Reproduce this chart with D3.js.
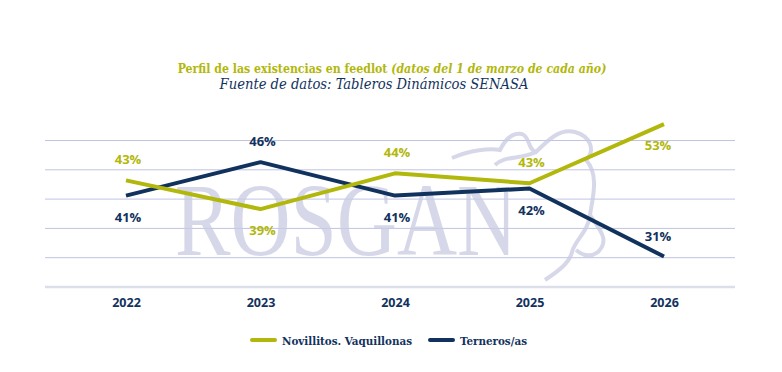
<!doctype html>
<html>
	<head>
		<meta charset="utf-8">
		<script src="https://cdn.jsdelivr.net/npm/d3@7"></script>
		<style>
			body { margin: 0; background: #fff; }
			svg { display: block; }
		</style>
	</head>
	<body>
		<div id="container"></div>
		<script>
			// chart data
			var years = ["2022", "2023", "2024", "2025", "2026"];
			var novillitos = [43.2, 38.3, 44.4, 42.7, 52.8];
			var terneros = [40.6, 46.3, 40.6, 41.8, 30.2];
			var novillitosLabels = ["43%", "39%", "44%", "43%", "53%"];
			var terneros_labels = ["41%", "46%", "41%", "42%", "31%"];
			var gridTicks = [25, 30, 35, 40, 45, 50];

			var green = "#b2b70b";
			var navy = "#12325e";
			var slab = "'DejaVu Serif Condensed', 'DejaVu Serif', serif";

			var svg = d3.select("#container")
				.append("svg")
				.attr("width", 782)
				.attr("height", 372);

			var x = d3.scalePoint().domain(years).range([126, 664]);
			var y = d3.scaleLinear().domain([25, 50]).range([287, 140.5]);

			// title
			svg.append("text")
				.attr("x", 392).attr("y", 73)
				.attr("text-anchor", "middle")
				.style("font-family", slab)
				.style("font-size", "12.2px")
				.style("font-weight", "bold")
				.attr("fill", green)
				.call(function(t){
					t.append("tspan").text("Perfil de las existencias en feedlot ");
					t.append("tspan").style("font-style", "italic").text("(datos del 1 de marzo de cada año)");
				});
			svg.append("text")
				.attr("x", 374).attr("y", 89)
				.attr("text-anchor", "middle")
				.style("font-family", slab)
				.style("font-size", "14.6px")
				.style("font-style", "italic")
				.attr("fill", navy)
				.text("Fuente de datos: Tableros Dinámicos SENASA");

			// gridlines
			svg.append("g").selectAll("line")
				.data(gridTicks)
				.enter()
				.append("line")
				.attr("x1", 45).attr("x2", 735)
				.attr("y1", function(d){ return y(d); })
				.attr("y2", function(d){ return y(d); })
				.attr("stroke", function(d){ return d == 25 ? "#dcdfea" : "#bfc3e4"; })
				.attr("stroke-width", function(d){ return d == 25 ? 2.5 : 1; });

			// watermark
			var wm = svg.append("g").attr("opacity", 0.75);
			wm.append("text")
				.attr("transform", "translate(175,255) scale(0.8,1)")
				.style("font-family", "'Liberation Serif', serif")
				.style("font-size", "104px")
				.attr("fill", "#c9cce2")
				.text("ROSGAN");
			wm.append("path")
				.attr("d", "M452,158 C470,150 490,148 500,150 C505,140 512,132 522,134 C530,137 528,150 536,152 C548,140 560,128 575,132 C590,136 596,150 586,160 C600,175 592,200 590,215 C588,232 575,240 572,252 C570,262 560,270 545,280 M536,152 C520,160 505,155 495,165 M590,215 C600,230 610,240 598,252 C590,258 582,255 576,250")
				.attr("fill", "none")
				.attr("stroke", "#c9cce2")
				.attr("stroke-width", 4);

			var line = d3.line()
				.x(function(d, i){ return x(years[i]); })
				.y(function(d){ return y(d); });

			svg.append("path")
				.datum(terneros)
				.attr("d", line)
				.attr("fill", "none")
				.attr("stroke", navy)
				.attr("stroke-width", 4)
				.attr("stroke-linejoin", "round");
			svg.append("path")
				.datum(novillitos)
				.attr("d", line)
				.attr("fill", "none")
				.attr("stroke", green)
				.attr("stroke-width", 4)
				.attr("stroke-linejoin", "round");

			// value labels: above or below the point
			var greenSide = [-1, 1, -1, -1, 1];
			var navySide = [1, -1, 1, 1, -1];
			function labels(vals, texts, side, color) {
				svg.append("g").selectAll("text")
					.data(vals)
					.enter()
					.append("text")
					.attr("x", function(d, i){ return x(years[i]) + (i == 4 ? -6 : 2); })
					.attr("y", function(d, i){ return side[i] < 0 ? y(d) - 16 : y(d) + 26; })
					.attr("text-anchor", "middle")
					.style("font-family", "'Open Sans', sans-serif")
					.style("font-size", "13px")
					.style("font-weight", "bold")
					.attr("fill", color)
					.text(function(d, i){ return texts[i]; });
			}
			labels(novillitos, novillitosLabels, greenSide, green);
			labels(terneros, terneros_labels, navySide, navy);

			// x axis labels
			var xAxis = svg.append("g")
				.attr("transform", "translate(0,287)")
				.call(d3.axisBottom(x).tickSize(0).tickPadding(11));
			xAxis.select(".domain").remove();
			xAxis.selectAll("text")
				.style("font-family", "'Open Sans', sans-serif")
				.style("font-size", "12.5px")
				.style("font-weight", "bold")
				.attr("fill", navy);

			// legend
			var legend = [["Novillitos. Vaquillonas", green, 252], ["Terneros/as", navy, 430]];
			var lg = svg.append("g").selectAll("g")
				.data(legend)
				.enter()
				.append("g")
				.attr("transform", function(d){ return "translate(" + d[2] + ",340)"; });
			lg.append("line")
				.attr("x1", 0).attr("x2", 23)
				.attr("stroke", function(d){ return d[1]; })
				.attr("stroke-width", 4)
				.attr("stroke-linecap", "round");
			lg.append("text")
				.attr("x", 30).attr("y", 4.5)
				.style("font-family", slab)
				.style("font-size", "11.5px")
				.style("font-weight", "bold")
				.attr("fill", navy)
				.text(function(d){ return d[0]; });
		</script>
	</body>
</html>
